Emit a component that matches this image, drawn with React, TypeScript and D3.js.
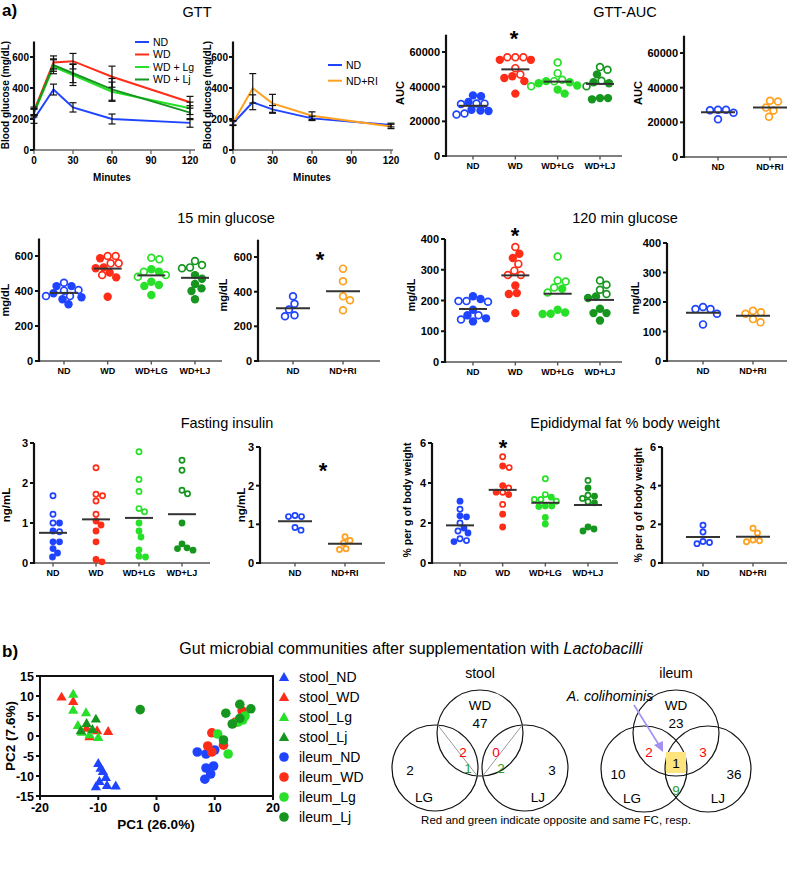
import React from 'react';
import * as d3 from 'd3';

const FONT = "'Liberation Sans', Arial, Helvetica, sans-serif";
const BLUE = '#1f44ff';
const RED = '#ff2c17';
const LGREEN = '#27e027';
const DGREEN = '#16961f';
const ORANGE = '#ffa11f';

// ---------------- GTT curves ----------------
const gttMinutes = [0, 15, 30, 60, 120];
const gttTicks = [0, 30, 60, 90, 120];
const glucoseTicks = [0, 200, 400, 600];
const gttNames = ['ND', 'WD', 'WD + Lg', 'WD + Lj'];
const gttND = [200, 390, 275, 200, 175];
const gttWD = [252, 565, 573, 473, 308];
const gttLg = [238, 537, 484, 376, 269];
const gttLj = [245, 548, 495, 391, 241];
const gttNDErr = [28, 35, 30, 32, 28];
const gttWDErr = [25, 42, 50, 68, 38];
const gttLgErr = [25, 45, 68, 62, 40];
const gttLjErr = [22, 40, 60, 70, 45];
const gtt2Names = ['ND', 'ND+RI'];
const gtt2ND = [172, 308, 262, 204, 161];
const gtt2RI = [176, 398, 301, 221, 152];
const gtt2NDErr = [14, 48, 25, 14, 12];
const gtt2RIErr = [14, 95, 58, 25, 14];

// ---------------- scatter categories ----------------
const catsWD = ['ND', 'WD', 'WD+LG', 'WD+LJ'];
const catsRI = ['ND', 'ND+RI'];
const colorsWD = [BLUE, RED, LGREEN, DGREEN];
const colorsRI = [BLUE, ORANGE];

// GTT-AUC
const aucTicks = [0, 20000, 40000, 60000];
const aucOpen = [
  [30200, 30300, 30000, 23900, 24500],
  [57000, 57000, 57000, 50700, 47100],
  [54000, 47800, 40200, 43200, 44000],
  [51300, 49800, 43400, 40300],
];
const aucFilled = [
  [34500, 35000, 31200, 26700, 26300, 26000],
  [55500, 55500, 46000, 45000, 43200, 36000],
  [42600, 43200, 42000, 40700, 36000, 38300],
  [47100, 42600, 42000, 32700, 33400, 33400],
];
const auc2Open = [
  [27300, 27000, 27300, 25500, 21800],
  [32500, 32000, 28500, 26900, 23200],
];

// 15 min glucose
const g15Open = [
  [447, 371, 406, 402, 371],
  [600, 600, 558, 558, 491],
  [581, 590, 510, 481, 491],
  [571, 548, 535, 530],
];
const g15Filled = [
  [428, 428, 364, 387, 324, 353],
  [587, 535, 505, 530, 478, 367],
  [453, 511, 524, 429, 434, 377],
  [491, 470, 440, 415, 400, 353],
];
const g15RIOpen = [
  [374, 330, 297, 258, 264],
  [533, 460, 374, 351, 293],
];

// 120 min glucose
const g120Ticks = [0, 100, 200, 300, 400];
const g120Open = [
  [198, 198, 196, 152, 138],
  [374, 319, 283, 297, 283],
  [343, 242, 262, 265, 226],
  [235, 251, 265, 221],
];
const g120Filled = [
  [214, 205, 170, 152, 142, 132],
  [338, 352, 249, 221, 224, 159],
  [238, 156, 170, 157, 161],
  [213, 208, 173, 159, 159, 135],
];
const g120RIOpen = [
  [176, 183, 176, 160, 124],
  [170, 160, 165, 142, 131],
];

// Fasting insulin
const insTicks = [0, 1, 2, 3];
const insOpen = [
  [1.68, 1.22, 1.0, 0.78],
  [2.38, 1.68, 1.72, 1.55, 1.22],
  [2.78, 2.09, 1.79, 1.36, 1.28],
  [2.57, 2.32, 1.82, 1.73],
];
const insFilled = [
  [1.0, 0.8, 0.53, 0.53, 0.36, 0.25, 0.15],
  [1.05, 0.95, 0.8, 0.53, 0.09, 0.03],
  [1.0, 0.8, 0.65, 0.33, 0.17, 0.15],
  [1.0, 0.48, 0.38, 0.36, 0.32],
];
const insRIOpen = [
  [1.2, 1.23, 1.2, 0.92, 0.85],
  [0.68, 0.58, 0.52, 0.37, 0.35],
];

// Epididymal fat
const epiTicks = [0, 2, 4, 6];
const epiOpen = [
  [2.69, 2.0, 1.6, 1.21, 1.12],
  [5.31, 4.77, 3.75, 3.54, 2.93],
  [4.21, 3.42, 3.18, 3.18, 3.09],
  [4.13, 3.39, 3.23, 3.06],
];
const epiFilled = [
  [3.09, 2.31, 2.36, 1.75, 1.5, 1.07],
  [4.85, 3.87, 3.42, 3.54, 2.44, 1.8],
  [3.29, 2.85, 2.82, 2.85, 2.28, 1.95],
  [3.75, 3.34, 3.01, 1.8, 1.7, 1.6],
];
const epiRIOpen = [
  [1.95, 1.6, 1.11, 1.06, 1.0],
  [1.8, 1.55, 1.19, 1.15, 1.1],
];

// ---------------- PCA ----------------
const pcaXTicks = [-20, -10, 0, 10, 20];
const pcaYTicks = [-15, -10, -5, 0, 5, 10, 15];
const pcaNames = ['stool_ND', 'stool_WD', 'stool_Lg', 'stool_Lj', 'ileum_ND', 'ileum_WD', 'ileum_Lg', 'ileum_Lj'];
const pcaColors = [BLUE, RED, LGREEN, DGREEN, BLUE, RED, LGREEN, DGREEN];
const stoolND: [number, number][] = [[-10, -7], [-9.2, -9], [-8.7, -10.5], [-9.8, -11.5], [-8.5, -12.5], [-7, -12.6], [-10.4, -12.8], [-9.6, -8.2]];
const stoolWD: [number, number][] = [[-16.3, 9.6], [-14.3, 8.5], [-12, 1.8], [-10.2, 1.2], [-8.3, 1.0], [-11.5, -0.3]];
const stoolLg: [number, number][] = [[-14.3, 10.3], [-14.3, 6.3], [-12.1, 5.7], [-13.5, 2.5], [-11.5, 0.2], [-10, -0.5], [-12.8, 0.8]];
const stoolLj: [number, number][] = [[-10.4, 4.1], [-12, 3], [-11, 1.5], [-13, 1.2]];
const ileumND: [number, number][] = [[7, -4], [8.5, -4.5], [10, -3.5], [8.5, -8], [9.3, -9.5], [8.3, -10.8], [9.8, -7.5]];
const ileumWD: [number, number][] = [[14.7, 6.3], [13.5, 3.4], [9.5, 0.8], [8.8, -2.5], [11.5, -2.3], [9.5, -4]];
const ileumLg: [number, number][] = [[15.2, 5.0], [14, 3.5], [12.3, -4.5], [10.5, 0.5], [14.8, 4]];
const ileumLj: [number, number][] = [[-2.8, 6.6], [11.9, 5.7], [14.3, 7.9], [16.2, 6.8], [14.3, 4.4], [13, 3], [11.5, -1]];
const pcaGroups = [stoolND, stoolWD, stoolLg, stoolLj, ileumND, ileumWD, ileumLg, ileumLj];

// ---------------- Venn ----------------
const vennSets = ['WD', 'LG', 'LJ'];
const stoolOnly = [47, 2, 3];
const stoolOpposite = [2, 0];
const stoolSame = [1, 2];
const ileumOnly = [23, 10, 36];
const ileumOpposite = [2, 3];
const ileumLGLJSame = 9;
const ileumTriple = 1;

// ---------------- helpers ----------------
function swarm(vals: { v: number; open: boolean }[], y: (v: number) => number, r: number) {
  const sorted = vals.map((d) => ({ ...d, py: y(d.v) })).sort((a, b) => a.py - b.py);
  const placed: { px: number; py: number; open: boolean }[] = [];
  const minD = 1.85 * r;
  for (const d of sorted) {
    let best = 0;
    for (let k = 0; k < 400; k++) {
      const off = k === 0 ? 0 : (k % 2 ? 1 : -1) * Math.ceil(k / 2) * 0.5;
      if (placed.every((p) => Math.hypot(p.px - off, p.py - d.py) >= minD)) {
        best = off;
        break;
      }
    }
    placed.push({ px: best, py: d.py, open: d.open });
  }
  return placed;
}

function VText({ x, y, size, children, bold = true }: any) {
  return (
    <text transform={`translate(${x},${y}) rotate(-90)`} textAnchor="middle" fontSize={size} fontWeight={bold ? 'bold' : 'normal'}>
      {children}
    </text>
  );
}

function Star({ x, y }: { x: number; y: number }) {
  return (
    <text x={x} y={y + 22 * 0.57} textAnchor="middle" fontSize={22} fontWeight="bold">*</text>
  );
}

type ScatterCfg = {
  axisX: number; axisEnd: number; y0: number; yTop: number; max: number; ticks: number[];
  cats: string[]; catX0: number; catX1: number; colors: string[];
  open: number[][]; filled?: number[][]; r: number; meanW: number;
  ylabel: string; ylabelX: number; ylabelY: number; ylabelSize: number;
  star?: { x: number; y: number };
};

function ScatterPanel({ c }: { c: ScatterCfg }) {
  const y = d3.scaleLinear().domain([0, c.max]).range([c.y0, c.yTop]);
  const x = d3.scalePoint<string>().domain(c.cats).range([c.catX0, c.catX1]);
  return (
    <g>
      <line x1={c.axisX} x2={c.axisEnd} y1={c.y0} y2={c.y0} stroke="#555" strokeWidth={1.6} />
      {c.cats.map((cat) => (
        <g key={cat}>
          <line x1={x(cat)} x2={x(cat)} y1={c.y0} y2={c.y0 + 3.5} stroke="#555" strokeWidth={1.4} />
          <text x={x(cat)} y={c.y0 + 13} textAnchor="middle" fontSize={9} fontWeight="bold">{cat}</text>
        </g>
      ))}
      <line x1={c.axisX} x2={c.axisX} y1={c.y0 + 1} y2={c.yTop} stroke="#111" strokeWidth={2.2} />
      {c.ticks.map((t) => (
        <g key={t}>
          <line x1={c.axisX - 4} x2={c.axisX} y1={y(t)} y2={y(t)} stroke="#111" strokeWidth={2} />
          <text x={c.axisX - 6} y={y(t) + 4} textAnchor="end" fontSize={11} fontWeight="bold">{String(t)}</text>
        </g>
      ))}
      <VText x={c.ylabelX} y={c.ylabelY} size={c.ylabelSize}>{c.ylabel}</VText>
      {c.cats.map((cat, i) => {
        const vals = [
          ...c.open[i].map((v) => ({ v, open: true })),
          ...(c.filled ? c.filled[i] : []).map((v) => ({ v, open: false })),
        ];
        const pts = swarm(vals, y, c.r);
        const mean = d3.mean(vals, (d) => d.v) as number;
        const cx = x(cat) as number;
        return (
          <g key={cat}>
            {pts.map((p, j) => (
              <circle key={j} cx={cx + p.px} cy={p.py} r={p.open ? c.r - 0.8 : c.r}
                fill={p.open ? '#fff' : c.colors[i]} stroke={c.colors[i]} strokeWidth={p.open ? 1.7 : 0} />
            ))}
            <line x1={cx - c.meanW / 2} x2={cx + c.meanW / 2} y1={y(mean)} y2={y(mean)} stroke="#333" strokeWidth={2} />
          </g>
        );
      })}
      {c.star && <Star x={c.star.x} y={c.star.y} />}
    </g>
  );
}

type Series = { name: string; color: string; values: number[]; err: number[] };

function GttPanel({ x0, x1, axisEnd, series, legendX, legendY, legendDy, ylabelX }: any) {
  const x = d3.scaleLinear().domain([0, 120]).range([x0, x1]);
  const y = d3.scaleLinear().domain([0, 700]).range([150, 41.5]);
  const line = d3.line<number>().x((_, i) => x(gttMinutes[i])).y((v) => y(v));
  return (
    <g>
      <line x1={x0} x2={axisEnd} y1={150} y2={150} stroke="#666" strokeWidth={1.5} />
      {gttTicks.map((t) => (
        <g key={t}>
          <line x1={x(t)} x2={x(t)} y1={150} y2={154} stroke="#666" strokeWidth={1.3} />
          <text x={x(t)} y={164} textAnchor="middle" fontSize={10} fontWeight="bold">{t}</text>
        </g>
      ))}
      <text x={(x0 + x1) / 2} y={181} textAnchor="middle" fontSize={10} fontWeight="bold">Minutes</text>
      <line x1={x0} x2={x0} y1={150} y2={y(700)} stroke="#111" strokeWidth={2.2} />
      {glucoseTicks.map((t) => (
        <g key={t}>
          <line x1={x0 - 4} x2={x0} y1={y(t)} y2={y(t)} stroke="#111" strokeWidth={2} />
          <text x={x0 - 5} y={y(t) + 3.5} textAnchor="end" fontSize={10} fontWeight="bold">{t}</text>
        </g>
      ))}
      <VText x={ylabelX} y={95} size={10}>Blood glucose (mg/dL)</VText>
      {(series as Series[]).map((s) => (
        <path key={s.name} d={line(s.values) as string} fill="none" stroke={s.color} strokeWidth={2} />
      ))}
      {(series as Series[]).map((s) =>
        s.values.map((v, i) => {
          const cx = x(gttMinutes[i]);
          const hi = y(v + s.err[i]);
          const lo = y(v - s.err[i]);
          return (
            <g key={s.name + i} stroke="#111" strokeWidth={1.2}>
              <line x1={cx} x2={cx} y1={hi} y2={lo} />
              <line x1={cx - 3.5} x2={cx + 3.5} y1={hi} y2={hi} />
              <line x1={cx - 3.5} x2={cx + 3.5} y1={lo} y2={lo} />
            </g>
          );
        })
      )}
      {(series as Series[]).map((s, i) => (
        <g key={'lg' + s.name}>
          <line x1={legendX} x2={legendX + 14} y1={legendY + i * legendDy} y2={legendY + i * legendDy} stroke={s.color} strokeWidth={2} />
          <text x={legendX + 18} y={legendY + i * legendDy + 3.8} fontSize={10.5}>{s.name}</text>
        </g>
      ))}
    </g>
  );
}

function PCA() {
  const x = d3.scaleLinear().domain([-20, 20]).range([40, 273]);
  const y = d3.scaleLinear().domain([-15, 15]).range([796, 676]);
  const tri = d3.symbol(d3.symbolTriangle).size(46)() as string;
  return (
    <g>
      {pcaGroups.map((g, gi) =>
        g.map((p, j) =>
          gi < 4 ? (
            <path key={gi + '-' + j} d={tri} transform={`translate(${x(p[0])},${y(p[1])})`} fill={pcaColors[gi]} />
          ) : (
            <circle key={gi + '-' + j} cx={x(p[0])} cy={y(p[1])} r={4.8} fill={pcaColors[gi]} />
          )
        )
      )}
      <rect x={40} y={676} width={233} height={120} fill="none" stroke="#111" strokeWidth={2} />
      {pcaXTicks.map((t) => (
        <g key={t}>
          <line x1={x(t)} x2={x(t)} y1={796} y2={800} stroke="#111" strokeWidth={2} />
          <text x={x(t)} y={812} textAnchor="middle" fontSize={12.5} fontWeight="bold">{t}</text>
        </g>
      ))}
      {pcaYTicks.map((t) => (
        <g key={t}>
          <line x1={36} x2={40} y1={y(t)} y2={y(t)} stroke="#111" strokeWidth={2} />
          <text x={34} y={y(t) + 4.5} textAnchor="end" fontSize={12.5} fontWeight="bold">{t}</text>
        </g>
      ))}
      <text x={156} y={829} textAnchor="middle" fontSize={13.5} fontWeight="bold">PC1 (26.0%)</text>
      <VText x={15} y={736} size={13.5}>PC2 (7.6%)</VText>
      {pcaNames.map((n, i) => (
        <g key={n}>
          {i < 4 ? (
            <path d={tri} transform={`translate(284,${678 + i * 20})`} fill={pcaColors[i]} />
          ) : (
            <circle cx={284} cy={677 + i * 20} r={4.8} fill={pcaColors[i]} />
          )}
          <text x={299} y={677 + i * 20 + 5} fontSize={14}>{n}</text>
        </g>
      ))}
    </g>
  );
}

function chord(a: [number, number], b: [number, number], r: number) {
  const dx = b[0] - a[0], dy = b[1] - a[1];
  const d = Math.hypot(dx, dy);
  const mx = (a[0] + b[0]) / 2, my = (a[1] + b[1]) / 2;
  const h = Math.sqrt(r * r - (d / 2) * (d / 2));
  const px = -dy / d, py = dx / d;
  return [mx + px * h, my + py * h, mx - px * h, my - py * h];
}

function Venns() {
  const r = 43;
  const sx = 480;
  const ix = 676;
  const sWD: [number, number] = [sx, 733], sLG: [number, number] = [sx - 45, 768], sLJ: [number, number] = [sx + 45, 768];
  const iWD: [number, number] = [ix, 733], iLG: [number, number] = [ix - 32, 769], iLJ: [number, number] = [ix + 32, 769];
  const c1 = chord(sWD, sLG, r);
  const c2 = chord(sWD, sLJ, r);
  const green = '#2f9e2f';
  const fs = 13.5;
  return (
    <g fontSize={fs}>
      <text x={sx} y={678} textAnchor="middle" fontSize={14}>stool</text>
      {[sWD, sLG, sLJ].map((c, i) => (
        <circle key={i} cx={c[0]} cy={c[1]} r={r} fill="none" stroke="#111" strokeWidth={1.2} />
      ))}
      <line x1={c1[0]} y1={c1[1]} x2={c1[2]} y2={c1[3]} stroke="#999" strokeWidth={1} />
      <line x1={c2[0]} y1={c2[1]} x2={c2[2]} y2={c2[3]} stroke="#999" strokeWidth={1} />
      <text x={sx} y={710} textAnchor="middle">{vennSets[0]}</text>
      <text x={sx} y={728} textAnchor="middle">{stoolOnly[0]}</text>
      <text x={sx - 70} y={775} textAnchor="middle">{stoolOnly[1]}</text>
      <text x={sx + 72} y={775} textAnchor="middle">{stoolOnly[2]}</text>
      <text x={sx - 17} y={757} textAnchor="middle" fill="#ff0000">{stoolOpposite[0]}</text>
      <text x={sx - 12} y={773} textAnchor="middle" fill={green}>{stoolSame[0]}</text>
      <text x={sx + 16} y={757} textAnchor="middle" fill="#ff0000">{stoolOpposite[1]}</text>
      <text x={sx + 21} y={773} textAnchor="middle" fill={green}>{stoolSame[1]}</text>
      <text x={sx - 56} y={802} textAnchor="middle">{vennSets[1]}</text>
      <text x={sx + 58} y={802} textAnchor="middle">{vennSets[2]}</text>

      <text x={ix} y={678} textAnchor="middle" fontSize={14}>ileum</text>
      {[iWD, iLG, iLJ].map((c, i) => (
        <circle key={i} cx={c[0]} cy={c[1]} r={r} fill="none" stroke="#111" strokeWidth={1.2} />
      ))}
      <rect x={ix - 10} y={752} width={20} height={21} fill="#fde47f" />
      <text x={ix} y={768} textAnchor="middle">{ileumTriple}</text>
      <text x={ix} y={710} textAnchor="middle">{vennSets[0]}</text>
      <text x={ix} y={728} textAnchor="middle">{ileumOnly[0]}</text>
      <text x={ix - 58} y={779} textAnchor="middle">{ileumOnly[1]}</text>
      <text x={ix + 58} y={779} textAnchor="middle">{ileumOnly[2]}</text>
      <text x={ix - 27} y={757} textAnchor="middle" fill="#ff0000">{ileumOpposite[0]}</text>
      <text x={ix + 27} y={757} textAnchor="middle" fill="#ff0000">{ileumOpposite[1]}</text>
      <text x={ix} y={795} textAnchor="middle" fill={green}>{ileumLGLJSame}</text>
      <text x={ix - 44} y={803} textAnchor="middle">{vennSets[1]}</text>
      <text x={ix + 42} y={803} textAnchor="middle">{vennSets[2]}</text>
      <text x={610} y={701} textAnchor="middle" fontSize={14} fontStyle="italic">A. colihominis</text>
      <line x1={634} y1={705} x2={659} y2={745} stroke="#a58ff0" strokeWidth={1.6} />
      <path d="M663,752 L654,745 L663,741 Z" fill="#a58ff0" />
      <text x={556} y={824} textAnchor="middle" fontSize={11.5}>Red and green indicate opposite and same FC, resp.</text>
    </g>
  );
}

export default function App() {
  const gtt1: Series[] = [
    { name: gttNames[0], color: BLUE, values: gttND, err: gttNDErr },
    { name: gttNames[1], color: RED, values: gttWD, err: gttWDErr },
    { name: gttNames[2], color: LGREEN, values: gttLg, err: gttLgErr },
    { name: gttNames[3], color: DGREEN, values: gttLj, err: gttLjErr },
  ];
  const gtt2: Series[] = [
    { name: gtt2Names[0], color: BLUE, values: gtt2ND, err: gtt2NDErr },
    { name: gtt2Names[1], color: ORANGE, values: gtt2RI, err: gtt2RIErr },
  ];
  const panels: ScatterCfg[] = [
    { axisX: 446, axisEnd: 622, y0: 156, yTop: 34.7, max: 70000, ticks: aucTicks, cats: catsWD, catX0: 473, catX1: 600, colors: colorsWD, open: aucOpen, filled: aucFilled, r: 4.2, meanW: 28, ylabel: 'AUC', ylabelX: 404, ylabelY: 93, ylabelSize: 11, star: { x: 514, y: 33 } },
    { axisX: 684, axisEnd: 787, y0: 157, yTop: 35.7, max: 70000, ticks: aucTicks, cats: catsRI, catX0: 718, catX1: 770, colors: colorsRI, open: auc2Open, r: 4.2, meanW: 34, ylabel: 'AUC', ylabelX: 642, ylabelY: 93, ylabelSize: 11 },
    { axisX: 39, axisEnd: 222, y0: 361, yTop: 238.5, max: 700, ticks: glucoseTicks, cats: catsWD, catX0: 64, catX1: 195, colors: colorsWD, open: g15Open, filled: g15Filled, r: 4.2, meanW: 28, ylabel: 'mg/dL', ylabelX: 9, ylabelY: 300, ylabelSize: 11 },
    { axisX: 258, axisEnd: 380, y0: 361, yTop: 239.7, max: 700, ticks: glucoseTicks, cats: catsRI, catX0: 293, catX1: 343, colors: colorsRI, open: g15RIOpen, r: 4.2, meanW: 34, ylabel: 'mg/dL', ylabelX: 227, ylabelY: 295, ylabelSize: 11, star: { x: 320, y: 254 } },
    { axisX: 445, axisEnd: 622, y0: 362, yTop: 239, max: 400, ticks: g120Ticks, cats: catsWD, catX0: 473, catX1: 600, colors: colorsWD, open: g120Open, filled: g120Filled, r: 4.2, meanW: 28, ylabel: 'mg/dL', ylabelX: 415, ylabelY: 295, ylabelSize: 11, star: { x: 515, y: 230 } },
    { axisX: 667, axisEnd: 787, y0: 361, yTop: 243, max: 400, ticks: g120Ticks, cats: catsRI, catX0: 703, catX1: 753, colors: colorsRI, open: g120RIOpen, r: 4.2, meanW: 34, ylabel: 'mg/dL', ylabelX: 639, ylabelY: 298, ylabelSize: 11 },
    { axisX: 34, axisEnd: 210, y0: 563, yTop: 443, max: 3, ticks: insTicks, cats: catsWD, catX0: 53, catX1: 182, colors: colorsWD, open: insOpen, filled: insFilled, r: 3.4, meanW: 28, ylabel: 'ng/mL', ylabelX: 10, ylabelY: 505, ylabelSize: 11.5 },
    { axisX: 260, axisEnd: 385, y0: 563, yTop: 447, max: 3, ticks: insTicks, cats: catsRI, catX0: 295, catX1: 345, colors: colorsRI, open: insRIOpen, r: 3.4, meanW: 34, ylabel: 'ng/mL', ylabelX: 245, ylabelY: 505, ylabelSize: 11.5, star: { x: 323, y: 465 } },
    { axisX: 432, axisEnd: 618, y0: 563, yTop: 443, max: 6, ticks: epiTicks, cats: catsWD, catX0: 460, catX1: 588, colors: colorsWD, open: epiOpen, filled: epiFilled, r: 3.4, meanW: 28, ylabel: '% per g of body weight', ylabelX: 411, ylabelY: 500, ylabelSize: 10.5, star: { x: 503, y: 442 } },
    { axisX: 662, axisEnd: 787, y0: 563, yTop: 447, max: 6, ticks: epiTicks, cats: catsRI, catX0: 703, catX1: 753, colors: colorsRI, open: epiRIOpen, r: 3.4, meanW: 34, ylabel: '% per g of body weight', ylabelX: 642, ylabelY: 505, ylabelSize: 10.5 },
  ];
  return (
    <svg width={791} height={873} style={{ position: 'absolute', left: 0, top: 0, background: '#fff' }} fontFamily={FONT}>
      <rect width={791} height={873} fill="#fff" />
      <text x={2} y={16} fontSize={17} fontWeight="bold">a)</text>
      <text x={197} y={17} textAnchor="middle" fontSize={14.5}>GTT</text>
      <text x={625} y={17} textAnchor="middle" fontSize={14.5}>GTT-AUC</text>
      <text x={226} y={223} textAnchor="middle" fontSize={14.5}>15 min glucose</text>
      <text x={625} y={223} textAnchor="middle" fontSize={14.5}>120 min glucose</text>
      <text x={227} y={428} textAnchor="middle" fontSize={14.5}>Fasting insulin</text>
      <text x={625} y={428} textAnchor="middle" fontSize={14.5}>Epididymal fat % body weight</text>
      <GttPanel x0={34} x1={190} axisEnd={195} series={gtt1} legendX={135} legendY={42} legendDy={12.5} ylabelX={9} />
      <GttPanel x0={233} x1={391} axisEnd={393} series={gtt2} legendX={328} legendY={65} legendDy={15.7} ylabelX={211} />
      {panels.map((c, i) => <ScatterPanel key={i} c={c} />)}
      <text x={2} y={657} fontSize={17} fontWeight="bold">b)</text>
      <text x={411} y={654} textAnchor="middle" fontSize={16}>
        Gut microbial communities after supplementation with <tspan fontStyle="italic">Lactobacilli</tspan>
      </text>
      <PCA />
      <Venns />
    </svg>
  );
}
